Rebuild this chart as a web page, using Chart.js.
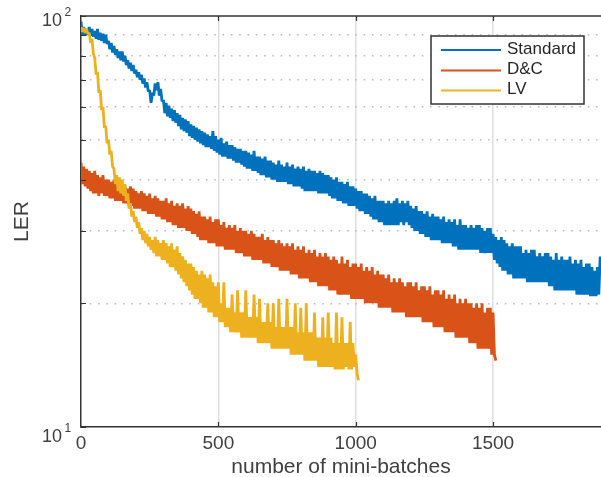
<!DOCTYPE html>
<html>
<head>
<meta charset="utf-8">
<script src="https://cdn.jsdelivr.net/npm/chart.js@4.4.1/dist/chart.umd.min.js"></script>
<style>
html,body{margin:0;padding:0;background:#ffffff;}
canvas{display:block;}
</style>
</head>
<body>
<canvas id="c" width="601" height="477"></canvas>
<script>
// ---- data ----
const seriesNames = ['Standard', 'D&C', 'LV'];
const seriesColors = ['#0072BD', '#D95319', '#EDB120'];
const batchStep = 5; // mini-batches between samples

const standardLER = [
  97, 90, 94, 89.5, 93, 90, 94, 89.5, 93, 89,
  92, 88, 93, 87.5, 91, 87, 90.5, 86, 90, 85.5,
  87, 83, 86, 81.5, 84.5, 80.5, 83, 79, 82, 78,
  82, 77.5, 80, 76, 78, 74.5, 77, 73.5, 76, 72.5,
  74, 71, 73, 70, 72, 68.5, 70.5, 67, 69, 65.5,
  66, 61.5, 65, 64, 68.5, 66, 69, 64, 66.5, 62,
  62.5, 58, 61.5, 57, 60.5, 56.5, 59.5, 55.5, 59, 55,
  58, 54, 57.5, 53, 56.5, 52.5, 56, 52, 55.5, 51,
  54.5, 50.5, 54, 50, 53.5, 49.5, 53, 49, 52.5, 48.5,
  52, 48, 51.5, 48, 51, 47.5, 52.5, 47, 51, 46.5,
  50, 46, 50.5, 45.5, 49, 45.5, 49.5, 45, 48.5, 45,
  48.5, 44.5, 48, 44, 47.5, 44, 47.5, 43.5, 47, 43,
  47, 42.5, 46.5, 42.5, 46, 42, 47, 42, 45.5, 41.5,
  45.5, 41, 45, 41, 45.5, 40.5, 44.5, 40.5, 44.5, 40,
  44, 40, 43.5, 39.5, 44.5, 39.5, 43.5, 39.5, 43, 39.5,
  44, 39, 43, 39, 43.5, 38.5, 42.5, 38.5, 43, 38.5,
  42.5, 38, 43, 37.5, 42, 37.5, 42.5, 37.5, 42, 37.5,
  42, 37.5, 41.5, 37, 42, 37, 41.5, 37, 41, 37,
  41, 36.5, 40.5, 36, 40, 36, 40.5, 35.5, 39.5, 35.5,
  39.5, 35, 39, 35, 39.5, 34.5, 38.5, 34.5, 38.5, 34.5,
  38, 34, 37.5, 33.5, 37.5, 33.5, 37, 33, 37, 33,
  36.5, 32.5, 36, 32, 36.5, 32, 35.5, 31.5, 35.5, 31.5,
  35.5, 31, 35, 31, 35.5, 31, 35, 31, 35.5, 31,
  36, 31, 35, 31.5, 35.5, 31, 35, 31.5, 35.5, 31,
  34.5, 30.5, 34, 30, 34.5, 30, 33.5, 29.5, 33.5, 29.5,
  33, 29, 33.5, 29, 32.5, 28.5, 33, 28.5, 32.5, 28.5,
  32.5, 28.5, 32, 28, 32.5, 28, 31.5, 28, 32, 28,
  31.5, 27.5, 32, 27.5, 31, 27, 32, 27, 31, 27,
  31, 27, 30.5, 27, 31, 27, 30.5, 27, 31, 27,
  31, 26.5, 30.5, 26.5, 30, 26.5, 30.5, 26.5, 30.5, 26.5,
  29.5, 25.5, 29, 25, 28.5, 24.5, 29, 24, 28.5, 24,
  28, 23.5, 27.5, 23.5, 28, 23, 27.5, 23, 27.5, 23,
  27.5, 23, 26.5, 23, 27, 22.5, 26.5, 22.5, 27, 22.5,
  27, 22.5, 26, 22.5, 26.5, 22.5, 26, 22.5, 26.5, 22.5,
  26.5, 22, 26, 22, 25.5, 21.5, 26.5, 21.5, 25.5, 21.5,
  26, 21.5, 25.5, 21.5, 25.5, 21.5, 26, 21.5, 25, 21.5,
  25.5, 21, 25, 21, 25.5, 21, 24.5, 21, 25, 21,
  25, 20.8, 24.5, 20.8, 24, 20.8, 24.5, 21, 26
];

const dcLER = [
  44, 39, 43, 38.5, 42.5, 38, 42, 37.5, 41.5, 37,
  42, 37, 41, 36.5, 40.5, 37, 41, 36.5, 40, 36.5,
  40, 36, 39.5, 36, 40, 35.5, 39, 35.5, 39.5, 35.5,
  39, 35, 38.5, 35, 38, 34.5, 38.5, 34.5, 38, 34,
  37.5, 34, 37, 34, 37.5, 33.5, 37, 33.5, 36.5, 33,
  37, 33, 36, 33, 36.5, 32.5, 36, 32.5, 35.5, 32,
  35.5, 32, 36, 31.5, 35, 31.5, 35.5, 31, 34.5, 31,
  35, 30.5, 34.5, 30.5, 35, 30.5, 34, 30, 34.5, 30,
  34, 29.5, 33.5, 29.5, 33, 29, 33.5, 28.5, 32.5, 28.5,
  32.5, 28.5, 32, 28, 32.5, 28, 31.5, 28, 32, 27.5,
  32, 27.5, 31, 27.5, 31.5, 27, 30.5, 27, 31, 27,
  30.5, 27, 31, 26.5, 30, 26.5, 30.5, 26.5, 30, 26,
  30, 26, 29.5, 26, 30, 25.5, 29.5, 25.5, 29, 25.5,
  29, 25.5, 29.5, 25, 28.5, 25, 29, 25, 28.5, 24.5,
  28.5, 24.5, 28, 24.5, 28.5, 24, 28, 24, 27.5, 24,
  28, 24, 27.5, 23.5, 28, 23.5, 27, 23.5, 27.5, 23,
  27, 23, 27.5, 23, 26.5, 23, 27, 22.5, 26.5, 22.5,
  27, 22.5, 26, 22, 26.5, 22, 26, 22, 26.5, 22,
  26, 21.5, 25.5, 21.5, 26, 21.5, 25.5, 21, 25, 21,
  26, 21, 25, 21, 25.5, 21, 24.5, 20.5, 25, 20.5,
  25, 20.5, 24.5, 20.5, 25, 20.5, 24, 20, 24.5, 20,
  24, 20, 24.5, 20, 23.5, 20, 24, 19.5, 23.5, 19.5,
  23.5, 19.5, 23, 19.5, 23.5, 19.5, 22.5, 19, 23, 19,
  22.5, 19, 23, 19, 22.5, 19, 22, 18.5, 22.5, 18.5,
  22.5, 18.5, 22, 18.5, 22.5, 18.5, 21.5, 18.5, 22, 18,
  22, 18, 21.5, 18, 22, 18, 21, 17.5, 21.5, 17.5,
  21.5, 17.5, 21, 17.5, 21.5, 17, 20.5, 17, 21, 17,
  20.5, 17, 21, 16.5, 20, 16.5, 20.5, 16.5, 20, 16.5,
  20.5, 16.5, 20, 16, 20, 16, 19.5, 16, 20, 15.5,
  19.5, 15.5, 20, 15.5, 19, 15.5, 19.5, 15.5, 19.5, 15,
  19, 15, 14.5
];

const lvLER = [
  94, 91.5, 93.5, 91, 93, 90.5, 91, 86, 88, 81,
  79, 72, 73, 65, 66, 59, 60, 53.5, 54, 49,
  50, 46, 47, 43, 42.5, 39, 41, 37.5, 40.5, 37,
  40, 36.5, 39, 35.5, 37, 34, 35, 32.5, 33.5, 31.5,
  32.5, 30.5, 31.5, 29.5, 30.5, 28.5, 30, 28, 29.5, 27.5,
  29, 27, 28.5, 26.5, 29, 26, 28.5, 26, 28, 25.5,
  28.5, 25.5, 28, 25, 27.5, 24.5, 28, 24.5, 27, 24,
  27.5, 23.5, 26.5, 23, 26, 22.5, 25.5, 22, 25, 21.5,
  25, 21, 24.5, 20.5, 24, 20.5, 23.5, 20, 24, 19.5,
  23.5, 19.5, 23, 19, 23.5, 19, 22.5, 18.5, 22, 18.5,
  22.5, 18, 20, 18, 22.5, 17.5, 19.5, 17.5, 19.5, 17,
  21, 17, 19, 17, 21.5, 17, 19, 16.5, 19, 16.5,
  21.5, 16.5, 18.5, 16.5, 18.5, 16.5, 21, 16.5, 18.5, 16,
  20.5, 16, 18, 16, 18, 16, 20, 16, 18, 15.5,
  20, 15.5, 17.5, 15.5, 20.5, 15.5, 17.5, 15.5, 17.5, 15.5,
  20.5, 15.5, 17.5, 15, 17.5, 15, 20, 15, 17, 15,
  19.5, 15, 17, 14.5, 20, 14.5, 17, 14.5, 17, 14.5,
  19, 14.5, 16.5, 14, 16.5, 14, 18.5, 14, 16.5, 14,
  19, 14, 16.5, 14, 16, 13.8, 19, 13.8, 16, 13.8,
  18.5, 13.8, 16, 14, 16, 13.8, 18, 13.8, 16, 14,
  15, 13.5, 13
];

const xTickValues = [0, 500, 1000, 1500];
const xMax = 1893;
const yGridValues = [10, 20, 30, 40, 50, 60, 70, 80, 90, 100];
const yTickValues = [10, 100];
const yTickBase = '10';
const yTickExponents = ['1', '2'];

// ---- styling ----
const FONT = 'Liberation Sans, Arial, Helvetica, sans-serif';
const AXIS = '#333333';
const TEXT = '#404040';
Chart.defaults.font.family = FONT;

function toPoints(arr) {
  return arr.map((v, i) => ({ x: i * batchStep, y: v }));
}

const seriesData = [standardLER, dcLER, lvLER];

const decorPlugin = {
  id: 'decor',
  afterDraw(chart) {
    const ctx = chart.ctx;
    const xs = chart.scales.x, ys = chart.scales.y;
    const ca = chart.chartArea;
    ctx.save();
    // top box line
    ctx.strokeStyle = AXIS;
    ctx.lineWidth = 1.5;
    ctx.beginPath();
    ctx.moveTo(ca.left, ca.top);
    ctx.lineTo(ca.right, ca.top);
    ctx.stroke();
    // inward ticks
    ctx.lineWidth = 1.2;
    ctx.beginPath();
    yGridValues.forEach(v => {
      const py = Math.round(ys.getPixelForValue(v)) + 0.5;
      ctx.moveTo(ca.left, py); ctx.lineTo(ca.left + 5, py);
    });
    xTickValues.forEach(v => {
      if (v === 0) return;
      const px = Math.round(xs.getPixelForValue(v)) + 0.5;
      ctx.moveTo(px, ca.bottom); ctx.lineTo(px, ca.bottom - 5);
      ctx.moveTo(px, ca.top); ctx.lineTo(px, ca.top + 5);
    });
    ctx.stroke();

    // y tick labels 10^1, 10^2
    const baseDy = [10, 5];
    const expDy = [2, -3];
    ctx.fillStyle = TEXT;
    ctx.textBaseline = 'middle';
    yTickValues.forEach((v, i) => {
      const py = ys.getPixelForValue(v);
      ctx.font = '18px ' + FONT;
      ctx.textAlign = 'right';
      ctx.fillText(yTickBase, 62, py + baseDy[i]);
      ctx.font = '12px ' + FONT;
      ctx.textAlign = 'left';
      ctx.fillText(yTickExponents[i], 64.5, py + expDy[i]);
    });

    // legend box
    const bx = 431, by = 36, bw = 153, bh = 68;
    ctx.fillStyle = '#ffffff';
    ctx.fillRect(bx, by, bw, bh);
    ctx.strokeStyle = '#333333';
    ctx.lineWidth = 1.5;
    ctx.strokeRect(bx, by, bw, bh);
    const rows = [50, 70.5, 90.5];
    chart.data.datasets.forEach((ds, i) => {
      ctx.strokeStyle = ds.borderColor;
      ctx.lineWidth = 2;
      ctx.beginPath();
      ctx.moveTo(441, rows[i]); ctx.lineTo(501, rows[i]);
      ctx.stroke();
      ctx.fillStyle = '#262626';
      ctx.font = '17px ' + FONT;
      ctx.textAlign = 'left';
      ctx.textBaseline = 'middle';
      ctx.fillText(ds.label, 507, rows[i] - 1);
    });
    ctx.restore();
  }
};

new Chart(document.getElementById('c'), {
  type: 'line',
  data: {
    datasets: seriesNames.map((name, i) => ({
      label: name,
      data: toPoints(seriesData[i]),
      borderColor: seriesColors[i],
      backgroundColor: seriesColors[i],
      borderWidth: 2.8,
      borderJoinStyle: 'bevel',
      pointRadius: 0,
      tension: 0,
      fill: false,
      order: 3 - i
    }))
  },
  options: {
    responsive: false,
    devicePixelRatio: 1,
    animation: false,
    events: [],
    layout: { padding: { top: 16, left: 0, right: 0, bottom: 0 } },
    plugins: { legend: { display: false }, tooltip: { enabled: false }, title: { display: false } },
    scales: {
      x: {
        type: 'linear',
        position: 'bottom',
        min: 0,
        max: xMax,
        offset: false,
        afterBuildTicks: s => { s.ticks = xTickValues.map(v => ({ value: v })); },
        afterFit: s => { s.height = 50; },
        ticks: {
          font: { size: 19 },
          color: TEXT,
          padding: 5,
          maxRotation: 0,
          callback: v => String(v)
        },
        grid: {
          drawTicks: false,
          color: c => (c.tick && c.tick.value === 0) ? 'rgba(0,0,0,0)' : '#dedede',
          lineWidth: 1.5
        },
        border: { display: true, color: AXIS, width: 1.5 },
        title: {
          display: true,
          text: 'number of mini-batches',
          color: TEXT,
          font: { size: 21, lineHeight: 0.8 },
          padding: { top: 0, bottom: 1 }
        }
      },
      y: {
        type: 'logarithmic',
        position: 'left',
        min: 10,
        max: 100,
        afterBuildTicks: s => { s.ticks = yGridValues.map(v => ({ value: v })); },
        afterFit: s => { s.width = 81; },
        ticks: { display: false },
        grid: {
          drawTicks: false,
          color: c => (c.tick && (c.tick.value === 10 || c.tick.value === 100)) ? 'rgba(0,0,0,0)' : '#b8b8b8',
          lineWidth: 1.5
        },
        border: { display: true, color: AXIS, width: 1.5, dash: [1.5, 6.8] },
        title: {
          display: true,
          text: 'LER',
          color: TEXT,
          font: { size: 21 },
          padding: { top: 10, bottom: 0 }
        }
      }
    }
  },
  plugins: [decorPlugin]
});
</script>
</body>
</html>
